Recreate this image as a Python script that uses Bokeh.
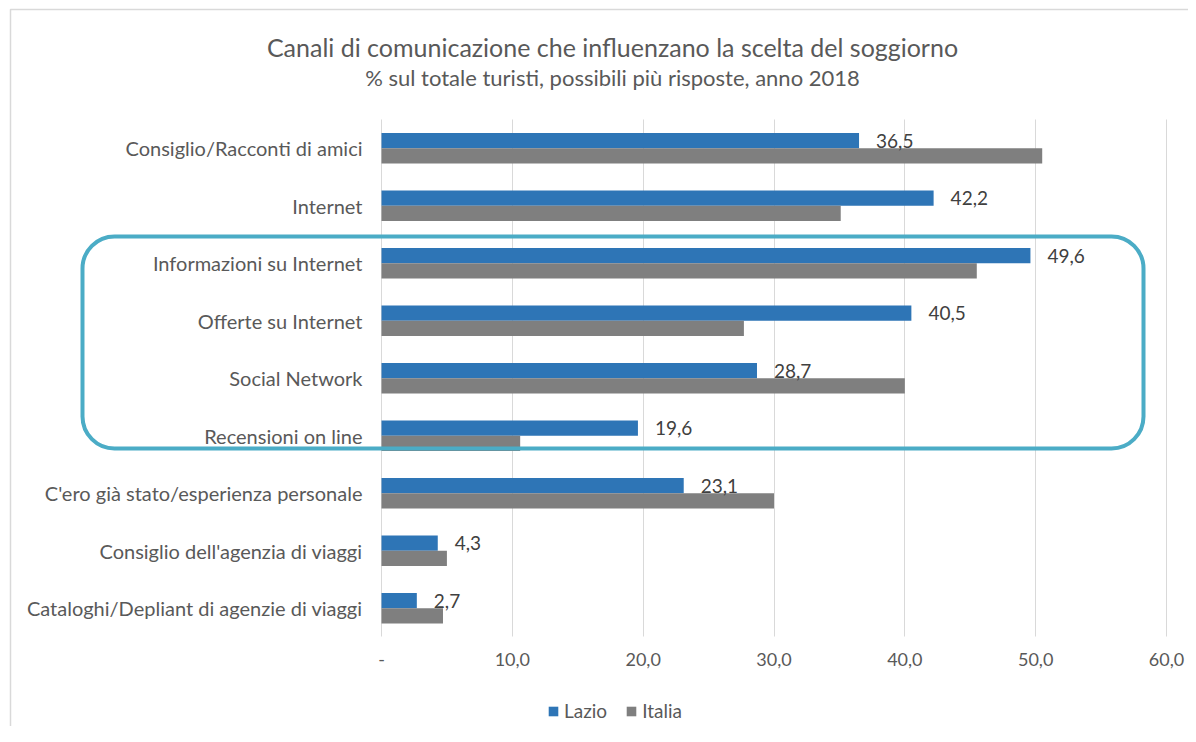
from bokeh.plotting import figure
from bokeh.models import (Range1d, FixedTicker, Label, Legend, LegendItem, Grid,
                          BoxAnnotation, ColumnDataSource)
from bokeh.transform import dodge
from bokeh.core.properties import value
from bokeh.embed import file_html
from bokeh.resources import INLINE

categories = [
    "Consiglio/Racconti di amici",
    "Internet",
    "Informazioni su Internet",
    "Offerte su Internet",
    "Social Network",
    "Recensioni on line",
    "C'ero già stato/esperienza personale",
    "Consiglio dell'agenzia di viaggi",
    "Cataloghi/Depliant di agenzie di viaggi",
]
lazio = [36.5, 42.2, 49.6, 40.5, 28.7, 19.6, 23.1, 4.3, 2.7]
italia = [50.5, 35.1, 45.5, 27.7, 40.0, 10.6, 30.0, 5.0, 4.7]
x_ticks = [0, 10, 20, 30, 40, 50, 60]
x_tick_labels = ["-", "10,0", "20,0", "30,0", "40,0", "50,0", "60,0"]
title_text = "Canali di comunicazione che influenzano la scelta del soggiorno"
subtitle_text = "% sul totale turisti, possibili più risposte, anno 2018"
series_names = ["Lazio", "Italia"]

BLUE = "#2E75B6"
GRAY = "#7F7F7F"
TXT = "#595959"
FONT = "Lato"

# ---- layout constants (pixels) ----
W, H = 1188, 726
ZERO_PX, SIXTY_PX = 381, 1166     # x pixel of value 0 and of the last tick
ROW_PX = 57.5                      # height of one category band
BOTTOM_ROW_PX = 607.7              # centre of the lowest category band

n = len(categories)
ypos = [n - 1 - i for i in range(n)]   # first category at top

src = ColumnDataSource(dict(
    y=ypos,
    lazio=lazio,
    italia=italia,
    lazio_lbl=[f"{v:.1f}".replace(".", ",") for v in lazio],
))

unit_px = (SIXTY_PX - ZERO_PX) / x_ticks[-1]
x_min = -ZERO_PX / unit_px
x_max = (W - ZERO_PX) / unit_px
y_start = (BOTTOM_ROW_PX - H) / ROW_PX
y_end = BOTTOM_ROW_PX / ROW_PX

p = figure(
    width=W, height=H, title=None,
    x_range=Range1d(x_min, x_max), y_range=Range1d(y_start, y_end),
    output_backend="svg", toolbar_location=None,
    min_border_left=0, min_border_right=0, min_border_top=0, min_border_bottom=0,
)
p.outline_line_color = None
p.background_fill_color = "white"
p.border_fill_color = "white"

off = 0.133
h = 0.265
r1 = p.hbar(y=dodge("y", off), right="lazio", left=0, height=h,
            source=src, fill_color=BLUE, line_color=None)
r2 = p.hbar(y=dodge("y", -off), right="italia", left=0, height=h,
            source=src, fill_color=GRAY, line_color=None)

p.text(x="lazio", y=dodge("y", off), text="lazio_lbl", source=src,
       x_offset=17, text_baseline="middle", text_align="left",
       text_font=value(FONT), text_font_size="19px", text_color="#404040")

# ---- x axis (drawn just below the last category band) ----
xa = p.xaxis[0]
xa.fixed_location = -0.5
xa.ticker = FixedTicker(ticks=x_ticks)
xa.major_label_overrides = {t: l for t, l in zip(x_ticks, x_tick_labels)}
xa.axis_line_color = None
xa.major_tick_line_color = None
xa.minor_tick_line_color = None
xa.major_tick_out = 0
xa.major_tick_in = 0
xa.major_label_standoff = 16
xa.major_label_text_font = FONT
xa.major_label_text_font_size = "18px"
xa.major_label_text_color = TXT

# ---- y axis (category labels, at value 0) ----
ya = p.yaxis[0]
ya.fixed_location = 0
ya.ticker = FixedTicker(ticks=ypos)
ya.major_label_overrides = {y: c for y, c in zip(ypos, categories)}
ya.axis_line_color = None
ya.major_tick_line_color = None
ya.minor_tick_line_color = None
ya.major_tick_out = 0
ya.major_tick_in = 0
ya.major_label_standoff = 19
ya.major_label_text_font = FONT
ya.major_label_text_font_size = "20px"
ya.major_label_text_color = TXT

p.xgrid.grid_line_color = "#D9D9D9"
p.xgrid.grid_line_width = 1
p.ygrid.grid_line_color = None
if "cross_bounds" in Grid.properties():
    p.xgrid.cross_bounds = (-0.5, n - 0.5)
else:
    for top, bottom in [(0, BOTTOM_ROW_PX - (n - 0.5) * ROW_PX),
                        (BOTTOM_ROW_PX + 0.5 * ROW_PX, H)]:
        p.add_layout(BoxAnnotation(left=0, right=W, top=top, bottom=bottom,
                                   left_units="canvas", right_units="canvas",
                                   top_units="canvas", bottom_units="canvas",
                                   fill_color="white", fill_alpha=1, line_color=None,
                                   level="underlay"))

# ---- titles ----
p.add_layout(Label(x=612, y=46, x_units="canvas", y_units="canvas", text=title_text,
                   text_align="center", text_baseline="middle", text_font=FONT,
                   text_font_size="25px", text_color=TXT))
p.add_layout(Label(x=612, y=77, x_units="canvas", y_units="canvas", text=subtitle_text,
                   text_align="center", text_baseline="middle", text_font=FONT,
                   text_font_size="22px", text_color=TXT))

# ---- legend ----
legend = Legend(items=[LegendItem(label=series_names[0], renderers=[r1]),
                       LegendItem(label=series_names[1], renderers=[r2])],
                orientation="horizontal", location=(547, 4),
                glyph_width=12, glyph_height=12, label_standoff=5, spacing=18,
                padding=0, margin=0, border_line_color=None, background_fill_alpha=0,
                label_text_font=FONT, label_text_font_size="19px", label_text_color=TXT)
p.add_layout(legend, "center")

# ---- highlight box ----
p.add_layout(BoxAnnotation(left=82, right=1143, top=236, bottom=448,
                           left_units="canvas", right_units="canvas",
                           top_units="canvas", bottom_units="canvas",
                           fill_alpha=0, line_color="#4BACC6", line_alpha=1, line_width=4,
                           border_radius=32))
# ---- chart area border (left and top edges) ----
p.add_layout(BoxAnnotation(left=10, right=4000, top=9, bottom=4000,
                           left_units="canvas", right_units="canvas",
                           top_units="canvas", bottom_units="canvas",
                           fill_alpha=0, line_color="#D9D9D9", line_alpha=1, line_width=1.5))

open("out.html", "w").write(file_html(p, INLINE))
